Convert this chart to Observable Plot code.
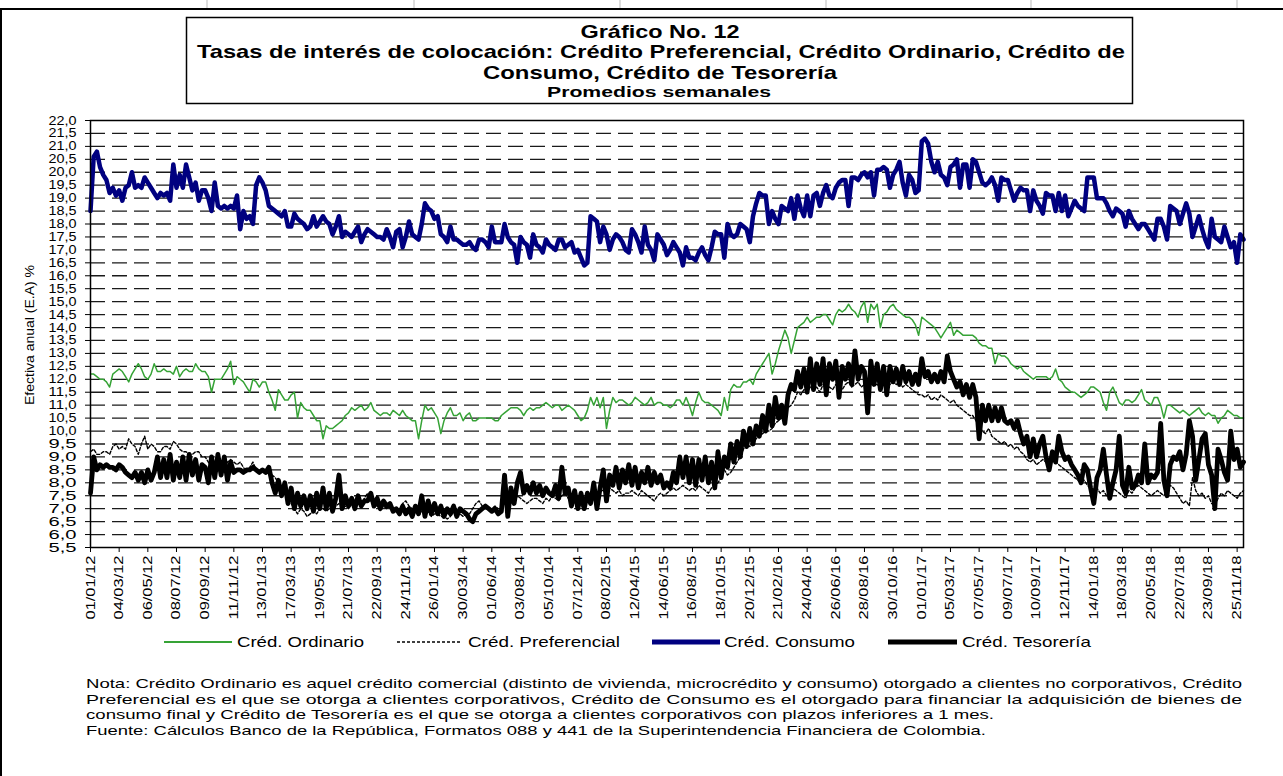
<!DOCTYPE html>
<html><head><meta charset="utf-8">
<script src="https://cdn.jsdelivr.net/npm/d3@7"></script>
<script src="https://cdn.jsdelivr.net/npm/@observablehq/plot@0.6"></script>
<style>
html,body{margin:0;padding:0;background:#fff;}
body{width:1283px;height:776px;position:relative;overflow:hidden;font-family:"Liberation Sans",Arial,sans-serif;}
#chart{position:absolute;left:0;top:0;}
#overlay{position:absolute;left:0;top:0;}
</style></head>
<body>
<svg id="overlay" width="1283" height="776" font-family="Liberation Sans, Arial, sans-serif">
  <g stroke="#bbb" stroke-width="1">
    <line x1="207" y1="0" x2="207" y2="8"/><line x1="414" y1="0" x2="414" y2="8"/><line x1="620" y1="0" x2="620" y2="8"/>
    <line x1="826" y1="0" x2="826" y2="8"/><line x1="1031" y1="0" x2="1031" y2="8"/><line x1="1237" y1="0" x2="1237" y2="8"/>
  </g>
  <line x1="0" y1="9" x2="1283" y2="9" stroke="#000" stroke-width="2"/>
  <line x1="1" y1="9" x2="1" y2="776" stroke="#000" stroke-width="2"/>
  <rect x="186.5" y="17.5" width="946" height="86" fill="none" stroke="#000" stroke-width="1.5"/>
  <g font-weight="bold" text-anchor="middle" fill="#000">
    <text x="660" y="38" font-size="18.5" textLength="159" lengthAdjust="spacingAndGlyphs">Gráfico No. 12</text>
    <text x="661" y="58" font-size="18.5" textLength="928" lengthAdjust="spacingAndGlyphs">Tasas de interés de colocación: Crédito Preferencial, Crédito Ordinario, Crédito de</text>
    <text x="660" y="79" font-size="18.5" textLength="354" lengthAdjust="spacingAndGlyphs">Consumo, Crédito de Tesorería</text>
    <text x="659" y="97" font-size="15.5" textLength="224" lengthAdjust="spacingAndGlyphs">Promedios semanales</text>
  </g>
  <text transform="translate(34,335) rotate(-90)" text-anchor="middle" font-size="12.5" textLength="140" lengthAdjust="spacingAndGlyphs">Efectiva anual (E.A) %</text>
  <g id="legend" font-size="14.5" fill="#000">
    <line x1="164" y1="642" x2="232" y2="642" stroke="#36a336" stroke-width="2"/>
    <text x="237" y="647" textLength="127" lengthAdjust="spacingAndGlyphs">Créd. Ordinario</text>
    <line x1="397" y1="642" x2="462" y2="642" stroke="#000" stroke-width="1.5" stroke-dasharray="3,2"/>
    <text x="468" y="647" textLength="152" lengthAdjust="spacingAndGlyphs">Créd. Preferencial</text>
    <line x1="652" y1="642" x2="720" y2="642" stroke="#000080" stroke-width="5"/>
    <text x="724" y="647" textLength="131" lengthAdjust="spacingAndGlyphs">Créd. Consumo</text>
    <line x1="888" y1="642" x2="957" y2="642" stroke="#000" stroke-width="5"/>
    <text x="962" y="647" textLength="129" lengthAdjust="spacingAndGlyphs">Créd. Tesorería</text>
  </g>
  <g font-size="13.5" fill="#000">
    <text x="86" y="688" textLength="1156" lengthAdjust="spacingAndGlyphs">Nota: Crédito Ordinario es aquel crédito comercial (distinto de vivienda, microcrédito y consumo) otorgado a clientes no corporativos, Crédito</text>
    <text x="86" y="703.5" textLength="1156" lengthAdjust="spacingAndGlyphs">Preferencial es el que se otorga a clientes corporativos, Crédito de Consumo es el otorgado para financiar la adquisición de bienes de</text>
    <text x="86" y="719" textLength="908" lengthAdjust="spacingAndGlyphs">consumo final  y Crédito de Tesorería es el que se otorga a clientes corporativos con plazos inferiores a 1 mes.</text>
    <text x="86" y="734.5" textLength="900" lengthAdjust="spacingAndGlyphs">Fuente: Cálculos Banco de la República, Formatos 088 y 441 de la Superintendencia Financiera de Colombia.</text>
  </g>
</svg>
<div id="chart"></div>
<script>
const tickLabels = ["01/01/12","04/03/12","06/05/12","08/07/12","09/09/12","11/11/12","13/01/13","17/03/13","19/05/13","21/07/13","22/09/13","24/11/13","26/01/14","30/03/14","01/06/14","03/08/14","05/10/14","07/12/14","08/02/15","12/04/15","14/06/15","16/08/15","18/10/15","20/12/15","21/02/16","24/04/16","26/06/16","28/08/16","30/10/16","01/01/17","05/03/17","07/05/17","09/07/17","10/09/17","12/11/17","14/01/18","18/03/18","20/05/18","22/07/18","23/09/18","25/11/18"];

const seriesNames = ["Créd. Ordinario","Créd. Preferencial","Créd. Consumo","Créd. Tesorería"];

const consumo = [
18.5,20.6,20.8,20.2,19.9,19.7,19.2,19.4,19.1,19.3,
18.9,19.4,19.5,20.0,19.4,19.5,19.4,19.8,19.6,19.4,
19.2,19.0,19.2,19.1,19.2,18.9,20.3,19.4,19.9,19.4,
20.3,19.8,19.3,19.6,18.9,19.3,19.3,19.0,18.5,19.6,
18.7,18.6,18.7,18.6,18.7,18.6,19.1,17.8,18.5,18.2,
18.3,18.0,19.5,19.8,19.6,19.3,18.7,18.6,18.5,18.4,
18.3,18.5,17.9,17.9,18.4,18.2,18.1,18.0,17.8,17.9,
18.3,17.9,18.1,18.3,18.1,18.0,17.6,17.9,18.3,17.5,
17.7,17.6,17.5,17.7,17.9,17.3,17.6,17.8,17.7,17.6,
17.5,17.5,17.4,17.8,17.5,17.1,17.7,17.8,17.1,17.5,
18.1,17.6,17.5,17.4,18.0,18.8,18.6,18.5,18.2,18.3,
17.6,17.5,17.3,17.9,17.4,17.4,17.3,17.2,17.2,17.3,
17.1,17.0,17.4,17.4,17.3,17.1,17.9,17.3,17.3,17.3,
18.0,17.5,17.3,17.2,16.5,17.5,17.3,17.2,16.7,17.6,
17.2,17.1,16.9,17.4,17.2,17.1,17.0,17.4,17.4,17.1,
17.2,17.3,16.9,17.0,16.7,16.4,16.5,18.3,18.2,18.1,
17.3,17.9,17.6,17.0,17.4,17.6,17.5,17.3,17.0,16.9,
17.8,17.6,17.3,16.9,17.9,17.2,17.0,16.6,17.6,17.4,
17.2,16.8,17.0,17.3,17.1,16.9,16.4,17.1,16.7,16.7,
16.6,16.9,17.1,16.8,16.6,17.1,17.7,17.6,17.6,16.7,
18.0,17.6,17.5,17.6,18.0,17.9,17.8,17.3,18.3,18.8,
19.2,19.1,19.1,18.0,18.5,18.2,18.0,18.7,18.6,18.5,
19.0,18.2,19.1,18.6,18.3,19.1,18.3,19.1,19.2,18.7,
19.2,19.5,19.1,19.0,19.4,19.6,19.7,19.7,18.7,19.8,
19.8,19.7,19.9,20.0,19.8,20.0,19.1,20.1,20.1,20.2,
20.1,19.4,19.9,20.1,20.4,19.6,19.1,19.9,19.7,19.2,
19.3,21.2,21.3,21.1,20.4,20.0,20.4,19.9,19.8,19.5,
20.2,20.3,20.5,19.4,20.3,20.3,19.4,20.5,20.4,20.0,
19.6,19.5,19.6,19.8,19.5,18.9,19.8,19.7,19.7,19.3,
18.9,19.2,19.4,19.3,19.3,18.5,19.3,18.9,18.7,18.4,
19.2,19.1,19.1,18.5,19.2,18.5,19.1,18.3,18.6,18.9,
18.7,18.6,18.5,19.8,19.8,19.8,19.0,19.0,19.0,18.8,
18.5,18.3,18.6,18.5,18.4,17.9,18.5,18.2,18.0,17.8,
18.0,18.0,17.8,17.6,17.4,18.2,18.2,17.9,17.4,18.7,
18.6,18.5,18.0,18.4,18.8,18.4,17.5,17.9,18.3,17.8,
17.4,17.1,18.2,17.5,17.4,17.3,17.9,17.5,17.1,17.3,
16.5,17.6,17.4];

const ordinario = [
12.2,12.2,12.1,12.0,12.0,11.9,11.7,12.2,12.3,12.4,
12.3,12.1,11.9,12.2,12.4,12.6,12.4,12.1,12.0,12.2,
12.6,12.3,12.3,12.4,12.3,12.3,12.2,12.5,12.1,12.3,
12.4,12.3,12.3,12.6,12.4,12.3,12.3,12.1,11.5,12.0,
12.0,12.0,12.2,12.4,12.7,11.8,12.1,12.0,11.9,11.7,
11.5,12.0,11.9,11.7,11.9,11.9,11.5,11.2,10.8,11.6,
11.4,11.2,11.2,11.4,11.5,10.5,11.1,10.9,10.8,10.8,
10.6,10.4,10.4,9.7,10.2,10.1,10.1,10.2,10.3,10.4,
10.6,10.7,10.9,10.8,10.9,11.0,10.8,10.9,11.1,10.8,
10.7,10.6,10.7,10.7,10.6,10.8,10.7,10.6,10.8,10.6,
10.5,10.4,10.4,9.7,10.4,11.0,10.8,10.9,10.7,10.5,
9.9,10.4,10.7,10.9,10.6,10.6,10.7,10.4,10.6,10.7,
10.4,10.4,10.5,10.5,10.5,10.5,10.5,10.4,10.4,10.6,
10.7,10.8,10.9,10.9,10.9,10.8,10.6,10.8,10.9,10.8,
10.9,10.9,11.0,11.1,11.0,10.9,11.0,11.0,10.8,10.9,
11.0,10.9,10.8,10.6,10.4,10.5,10.8,11.3,11.0,11.3,
10.9,11.3,10.1,10.8,11.3,11.1,11.2,11.2,11.1,11.0,
11.1,11.3,11.2,11.1,11.0,11.1,11.3,11.0,11.1,11.1,
11.0,11.0,10.9,11.0,11.2,11.2,11.0,11.3,11.0,10.6,
11.1,11.5,11.2,11.1,11.1,11.0,10.9,10.8,10.6,11.3,
10.8,11.6,11.8,11.7,11.7,11.9,11.9,12.0,11.8,12.2,
12.4,12.6,12.8,13.0,12.2,12.6,13.1,13.5,13.9,13.6,
13.0,13.5,14.0,14.1,14.2,14.4,14.2,14.3,14.4,14.4,
14.5,14.5,14.3,14.1,14.5,14.7,14.6,14.7,14.9,14.7,
14.6,14.4,14.8,15.0,14.2,14.9,14.7,14.9,14.0,14.5,
14.6,14.8,14.9,14.7,14.6,14.5,14.4,14.4,14.3,14.1,
13.7,14.4,14.3,14.2,14.1,14.0,13.8,13.6,13.8,14.0,
14.2,13.7,13.9,13.8,13.7,13.7,13.7,13.7,13.6,13.4,
13.3,13.3,13.2,13.2,12.6,13.0,12.9,12.9,12.8,12.6,
12.5,12.4,12.5,12.3,12.2,12.1,12.0,12.1,12.1,12.1,
12.1,12.0,12.1,12.4,12.0,11.9,11.7,11.6,11.5,11.5,
11.4,11.3,11.4,11.5,11.7,11.7,11.6,11.5,11.1,10.8,
11.5,11.7,11.4,11.1,11.0,11.2,11.2,11.1,11.2,11.4,
11.6,11.2,11.1,11.0,11.3,11.3,11.0,10.5,11.0,11.0,
10.9,10.8,10.7,10.8,10.7,10.6,10.7,10.8,10.9,10.7,
10.6,10.7,10.6,10.6,10.3,10.5,10.6,10.8,10.7,10.6,
10.6,10.5,10.5];

const preferencial = [
9.2,9.3,9.1,9.1,9.2,9.2,9.1,9.4,9.5,9.3,
9.4,9.3,9.7,9.5,9.4,9.1,9.5,9.8,9.3,9.5,
9.4,9.2,9.2,9.4,9.4,9.3,9.6,9.5,9.3,9.2,
9.2,9.1,9.1,9.2,9.2,9.0,9.0,8.8,8.6,8.8,
8.8,8.7,8.6,8.8,8.9,8.8,8.7,8.8,8.6,8.4,
8.6,8.8,8.5,8.4,8.5,8.4,8.4,8.3,8.2,8.0,
7.8,7.6,7.4,7.2,7.0,6.8,7.0,6.9,6.7,6.8,
6.9,6.8,7.0,7.0,6.9,7.0,6.9,7.1,7.2,7.0,
7.1,7.0,7.2,7.1,7.3,7.2,7.4,7.6,7.3,7.2,
7.1,7.0,7.1,7.0,7.1,7.0,7.0,6.9,7.2,7.3,
7.1,7.0,6.9,6.8,6.9,6.8,6.9,6.7,6.8,6.8,
6.7,6.7,6.6,6.7,6.9,6.8,6.8,6.7,6.8,6.8,
7.0,7.2,7.3,7.1,7.0,7.0,7.0,7.1,7.0,7.0,
7.2,7.4,7.3,7.2,7.5,7.4,7.3,7.2,7.3,7.4,
7.4,7.3,7.2,7.4,7.3,7.5,7.4,7.3,7.5,7.6,
7.4,7.2,7.3,7.2,7.1,7.1,7.3,7.4,7.6,7.5,
7.7,7.7,7.6,7.8,7.7,7.6,7.7,7.5,7.6,7.6,
7.7,7.6,7.5,7.7,7.6,7.5,7.4,7.3,7.5,7.6,
7.5,7.6,7.7,7.8,7.7,7.8,7.9,7.8,7.7,7.8,
7.7,7.9,7.8,7.7,7.6,7.8,7.9,8.0,8.2,8.5,
8.3,8.4,8.6,8.8,9.0,9.3,9.5,9.4,9.6,9.7,
9.8,9.9,10.0,10.0,10.1,10.3,10.4,10.5,10.8,10.9,
11.0,11.2,11.5,11.4,11.6,11.5,11.7,11.6,11.7,11.5,
11.8,11.6,11.7,11.6,11.8,11.7,11.6,11.8,11.9,11.7,
11.8,11.9,11.7,11.8,11.7,11.9,11.8,11.8,11.7,11.8,
11.9,11.8,11.9,11.8,11.9,11.7,11.8,11.7,11.6,11.5,
11.4,11.4,11.3,11.4,11.2,11.3,11.2,11.4,11.3,11.2,
11.1,11.2,11.0,10.9,10.8,10.7,10.6,10.6,10.4,10.2,
10.0,9.9,10.1,9.8,9.7,9.6,9.5,9.6,9.4,9.5,
9.3,9.4,9.2,9.1,8.9,8.8,8.9,8.7,8.8,8.9,
8.8,8.7,8.9,8.8,8.7,8.6,8.5,8.4,8.3,8.2,
8.1,8.0,8.1,7.9,7.8,7.7,7.8,7.6,7.7,7.5,
7.6,7.8,7.7,7.6,7.5,7.4,7.7,7.6,7.8,7.9,
7.8,7.7,7.6,7.5,7.6,7.7,7.6,7.5,7.7,7.9,
7.8,7.6,7.4,7.2,7.3,7.1,8.2,7.7,7.5,7.6,
7.4,7.5,7.2,7.1,7.4,7.6,7.5,7.7,7.6,7.5,
7.4,7.6,7.7];

const tesoreria = [
7.6,9.0,8.5,8.7,8.6,8.7,8.6,8.6,8.5,8.7,
8.6,8.4,8.3,8.2,8.4,8.1,8.4,8.0,8.5,8.1,
8.4,9.0,8.2,8.9,8.2,9.1,8.1,8.8,8.2,9.0,
8.1,9.1,8.3,8.9,8.1,8.7,8.6,8.0,9.0,8.2,
9.1,8.3,9.0,8.1,8.8,8.4,8.5,8.5,8.4,8.5,
8.5,8.6,8.5,8.4,8.5,8.4,8.6,8.0,7.6,8.1,
7.5,8.0,7.2,7.8,7.0,7.6,7.1,7.5,7.0,7.5,
6.9,7.6,7.0,7.8,7.0,7.6,6.9,7.4,8.3,7.0,
7.5,7.1,7.4,7.0,7.5,7.1,7.3,7.3,7.6,7.1,
7.4,7.0,7.3,7.1,7.2,6.9,7.0,6.8,7.1,6.8,
7.0,6.7,7.1,6.8,7.5,6.7,7.3,6.8,7.2,6.8,
7.1,6.7,7.0,6.8,7.1,6.7,7.0,6.9,6.8,6.6,
6.5,6.8,6.9,7.0,7.1,7.0,6.9,7.0,6.8,6.9,
8.3,6.7,7.8,7.2,8.0,8.4,7.6,7.9,7.6,8.0,
7.6,7.9,7.5,7.8,7.6,7.5,7.9,7.4,8.6,7.6,
7.8,7.1,7.7,7.0,7.6,7.0,7.6,7.2,8.0,7.0,
7.8,8.5,7.3,8.3,7.9,8.6,7.8,8.5,8.0,8.7,
7.9,8.6,7.8,8.4,8.0,8.6,7.9,8.4,8.0,8.3,
7.8,8.0,7.8,8.4,8.0,9.0,8.2,9.0,8.0,8.9,
7.9,8.9,8.1,9.0,8.0,8.8,7.8,9.2,8.2,9.0,
8.6,9.5,8.8,9.6,9.0,10.0,9.4,10.1,9.5,10.2,
9.8,10.6,10.0,11.0,10.2,11.3,10.5,11.0,10.3,11.4,
11.8,11.6,12.3,11.7,12.4,11.5,12.8,11.6,12.6,11.8,
12.8,11.4,12.6,12.0,12.7,11.3,12.5,12.0,12.6,11.8,
13.1,12.0,12.5,12.3,10.7,12.7,11.8,12.6,11.6,12.5,
11.4,12.5,11.9,12.4,11.8,12.5,11.9,12.3,11.8,12.2,
11.8,12.8,12.1,12.3,11.9,12.2,11.9,12.3,11.9,12.9,
12.3,12.0,11.7,11.9,11.4,11.8,11.3,11.8,11.3,9.7,
11.0,10.4,11.0,10.4,10.9,10.4,10.9,10.4,10.3,10.4,
10.1,10.4,9.9,9.5,9.8,9.0,9.7,9.0,9.5,9.8,
9.0,8.5,9.2,8.8,9.8,9.2,8.9,9.0,8.7,8.5,
8.3,8.0,8.7,8.5,7.8,7.2,8.2,8.5,9.3,8.3,
7.4,8.0,8.5,9.8,7.9,7.6,8.6,7.8,7.9,8.3,
8.0,9.5,8.0,8.3,8.2,8.4,10.3,8.1,7.5,8.7,
9.0,8.9,9.2,8.5,9.1,10.4,9.8,8.1,8.9,9.7,
9.9,8.7,8.3,7.0,9.3,8.9,8.4,8.1,10.0,8.9,
9.3,8.6,8.8];

const yTicks = d3.range(5.5, 22.001, 0.5).map(v => +v.toFixed(1));

const parse = d3.utcParse("%d/%m/%y");
const tickDates = tickLabels.map(parse);
const start = tickDates[0];
const dates = consumo.map((_, i) => d3.utcDay.offset(start, 7 * i));
const rows = (arr, name) => arr.map((v, i) => ({date: dates[i], value: v, serie: name}));

const chart = Plot.plot({
  width: 1283, height: 630,
  marginLeft: 90, marginRight: 40, marginTop: 120, marginBottom: 83,
  style: {fontFamily: "Liberation Sans, Arial, sans-serif", fontSize: "12.5px", color: "#000", background: "transparent", overflow: "visible"},
  x: {type: "utc", domain: [dates[0], dates[dates.length - 1]], ticks: tickDates, tickFormat: d3.utcFormat("%d/%m/%y"), tickRotate: -90, tickSize: 5, tickPadding: 3, label: null},
  y: {domain: [5.5, 22], ticks: yTicks, tickFormat: d => d.toFixed(1).replace(".", ","), tickSize: 5, tickPadding: 9, label: null},
  marks: [
    Plot.ruleY(yTicks.filter(v => v > 5.5 && v < 22), {stroke: "#1a1a1a", strokeWidth: 1.3, strokeDasharray: "15,7", strokeOpacity: 1}),
    Plot.line(rows(ordinario, seriesNames[0]), {x: "date", y: "value", stroke: "#36a336", strokeWidth: 1.5}),
    Plot.line(rows(preferencial, seriesNames[1]), {x: "date", y: "value", stroke: "#000", strokeWidth: 1.4, strokeDasharray: "3,2"}),
    Plot.line(rows(consumo, seriesNames[2]), {x: "date", y: "value", stroke: "#000080", strokeWidth: 4.5}),
    Plot.line(rows(tesoreria, seriesNames[3]), {x: "date", y: "value", stroke: "#000", strokeWidth: 4.8}),
    Plot.frame({stroke: "#000", strokeWidth: 1.5})
  ]
});
document.getElementById("chart").appendChild(chart);
chart.querySelectorAll('g[aria-label="x-axis tick label"] text').forEach(t => {
  t.setAttribute("textLength", "64");
  t.setAttribute("lengthAdjust", "spacingAndGlyphs");
});
chart.querySelectorAll('g[aria-label="y-axis tick label"] text').forEach(t => {
  t.setAttribute("textLength", "28");
  t.setAttribute("lengthAdjust", "spacingAndGlyphs");
});
</script>
</body></html>
